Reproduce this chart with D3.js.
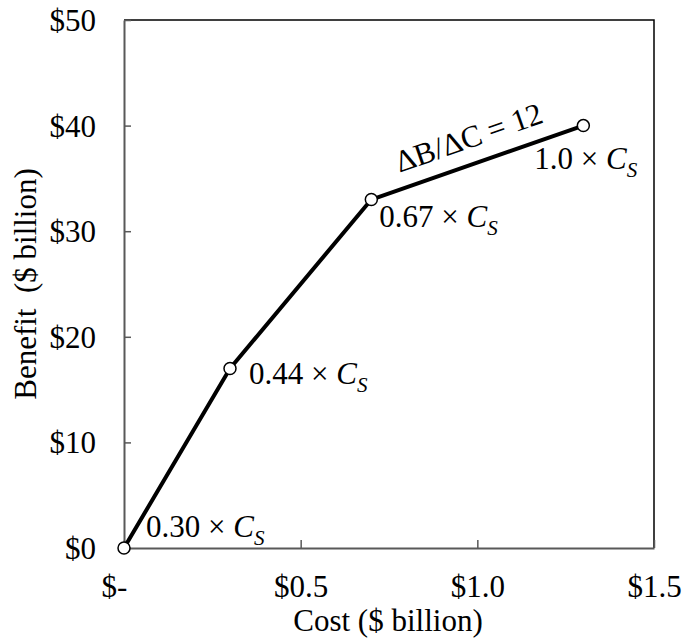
<!DOCTYPE html>
<html>
<head>
<meta charset="utf-8">
<script src="https://cdn.jsdelivr.net/npm/d3@7"></script>
<style>
  html, body { margin: 0; padding: 0; background: #fff; }
  svg { display: block; font-family: "Liberation Serif", "Times New Roman", serif; }
</style>
</head>
<body>
<svg id="chart" width="683" height="644"></svg>
<script>
// Data
const costs = [0.0, 0.30, 0.70, 1.30];          // $ billion
const benefits = [0, 17, 33, 40];               // $ billion
const pointLabels = ["0.30", "0.44", "0.67", "1.0"];
const xTicks = [0, 0.5, 1.0, 1.5];
const xTickLabels = ["$-", "$0.5", "$1.0", "$1.5"];
const yTicks = [0, 10, 20, 30, 40, 50];
const yTickLabels = ["$0", "$10", "$20", "$30", "$40", "$50"];
const slopeLabel = "ΔB/ΔC = 12";

const svg = d3.select("#chart");
const L = 124, R = 654, T = 20, B = 548;
const FS = 31;

const x = d3.scaleLinear().domain([0, 1.5]).range([L, R]);
const y = d3.scaleLinear().domain([0, 50]).range([B, T]);

// plot frame (top/right)
svg.append("path")
  .attr("d", `M${L},${T}H${R}V${B}`)
  .attr("fill", "none").attr("stroke", "#000").attr("stroke-width", 1.5);

// X axis
const xAxis = d3.axisBottom(x).tickValues(xTicks)
  .tickFormat((d, i) => xTickLabels[i])
  .tickSizeInner(-8).tickSizeOuter(0).tickPadding(27);
const gx = svg.append("g").attr("transform", `translate(0,${B})`).call(xAxis);
gx.select(".domain").attr("stroke", "#595959").attr("stroke-width", 2);
gx.selectAll(".tick line").attr("stroke", "#595959").attr("stroke-width", 1.5);
gx.selectAll(".tick text").attr("font-size", FS).attr("fill", "#000")
  .attr("font-family", "Liberation Serif")
  .attr("dx", (d, i) => i === 0 ? -10 : 0);

// Y axis
const yAxis = d3.axisLeft(y).tickValues(yTicks)
  .tickFormat((d, i) => yTickLabels[i])
  .tickSizeInner(-7).tickSizeOuter(0).tickPadding(28);
const gy = svg.append("g").attr("transform", `translate(${L},0)`).call(yAxis);
gy.select(".domain").attr("stroke", "#595959").attr("stroke-width", 2);
gy.selectAll(".tick line").attr("stroke", "#595959").attr("stroke-width", 1.5);
gy.selectAll(".tick text").attr("font-size", FS).attr("fill", "#000")
  .attr("font-family", "Liberation Serif").attr("dy", "0.34em");

// Axis titles
svg.append("text")
  .attr("x", (L + R) / 2 - 1).attr("y", 631)
  .attr("text-anchor", "middle").attr("font-size", FS)
  .text("Cost ($ billion)");
svg.append("text")
  .attr("transform", `translate(36,${(T + B) / 2}) rotate(-90)`)
  .attr("text-anchor", "middle").attr("font-size", FS)
  .attr("xml:space", "preserve")
  .text("Benefit  ($ billion)");

// Line
const pts = costs.map((c, i) => ({ c, b: benefits[i], lab: pointLabels[i] }));
svg.append("path")
  .datum(pts)
  .attr("d", d3.line().x(d => x(d.c)).y(d => y(d.b)))
  .attr("fill", "none").attr("stroke", "#000").attr("stroke-width", 4)
  .attr("stroke-linejoin", "round");

// Markers
svg.selectAll("circle.pt").data(pts).enter().append("circle")
  .attr("class", "pt")
  .attr("cx", d => x(d.c)).attr("cy", d => y(d.b)).attr("r", 6)
  .attr("fill", "#fff").attr("stroke", "#000").attr("stroke-width", 1.5);

// Point labels (offsets relative to point)
const labOff = [[22, -11], [19, 16], [8, 27], [-49, 43]];
pts.forEach((d, i) => {
  const t = svg.append("text")
    .attr("x", x(d.c) + labOff[i][0]).attr("y", y(d.b) + labOff[i][1])
    .attr("font-size", FS);
  t.append("tspan").text(d.lab + " × ");
  t.append("tspan").attr("font-style", "italic").text("C");
  t.append("tspan").attr("font-style", "italic").attr("font-size", FS * 0.68)
    .attr("dy", 8).text("S");
});

// Slope label
const p2 = pts[2], p3 = pts[3];
const ang = Math.atan2(y(p3.b) - y(p2.b), x(p3.c) - x(p2.c)) * 180 / Math.PI;
const mx = (x(p2.c) + x(p3.c)) / 2, my = (y(p2.b) + y(p3.b)) / 2;
svg.append("text")
  .attr("transform", `translate(${mx},${my}) rotate(${ang})`)
  .attr("x", 0).attr("y", -16)
  .attr("text-anchor", "middle").attr("font-size", FS)
  .text(slopeLabel);
</script>
</body>
</html>
